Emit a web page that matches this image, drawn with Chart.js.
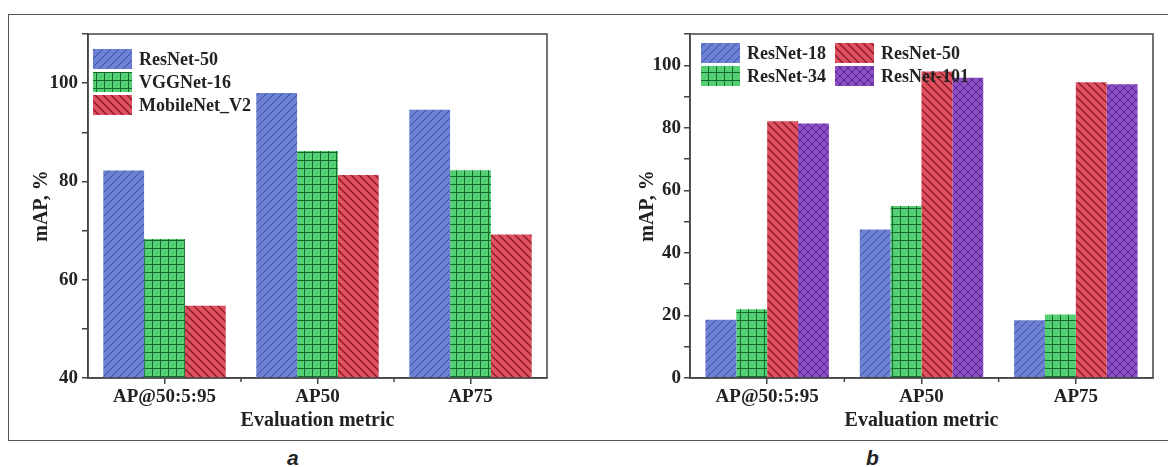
<!DOCTYPE html>
<html>
<head>
<meta charset="utf-8">
<script src="https://cdn.jsdelivr.net/npm/chart.js@4.4.1/dist/chart.umd.min.js"></script>
<style>
    html, body { margin: 0; padding: 0; background: #fff; }
    body { width: 1168px; height: 467px; position: relative; overflow: hidden; }
    #frame { position: absolute; left: 8px; top: 14px; width: 1180px; height: 425px; border: 1.5px solid #555; }
    .box { position: absolute; top: 0; height: 440px; }
    #boxA { left: 0; width: 580px; }
    #boxB { left: 580px; width: 588px; }
    .tag { position: absolute; top: 446px; font: italic bold 21px "Liberation Sans", Arial, sans-serif; color: #222; }
</style>
</head>
<body>
<div id="frame"></div>
<div class="box" id="boxA"><canvas id="chartA"></canvas></div>
<div class="box" id="boxB"><canvas id="chartB"></canvas></div>
<div class="tag" style="left:287px">a</div>
<div class="tag" style="left:866px">b</div>
<script>
// ---- data ----
const categories = ["AP@50:5:95", "AP50", "AP75"];

const labelsA = ["ResNet-50", "VGGNet-16", "MobileNet_V2"];
const resnet50A = [82.2, 98.0, 94.6];
const vggnet16A = [68.3, 86.2, 82.3];
const mobilenetA = [54.7, 81.3, 69.2];

const labelsB = ["ResNet-18", "ResNet-34", "ResNet-50", "ResNet-101"];
const resnet18B = [18.6, 47.5, 18.5];
const resnet34B = [22.0, 55.0, 20.3];
const resnet50B = [82.1, 98.0, 94.6];
const resnet101B = [81.4, 96.0, 93.9];

const FONT = "'Liberation Serif', 'Times New Roman', serif";
const INK = "#222";

// ---- hatch patterns ----
const makePattern = (bg, fg, kind) => {
    const s = 8;
    const c = document.createElement("canvas");
    c.width = s;
    c.height = s;
    const g = c.getContext("2d");
    g.fillStyle = bg;
    g.fillRect(0, 0, s, s);
    g.strokeStyle = fg;
    g.lineWidth = kind === "back" ? 1.4 : 1;
    const slash = () => {
        g.beginPath();
        g.moveTo(-1, s + 1); g.lineTo(s + 1, -1);
        g.moveTo(-1, 1); g.lineTo(1, -1);
        g.moveTo(s - 1, s + 1); g.lineTo(s + 1, s - 1);
        g.stroke();
    };
    const back = () => {
        g.beginPath();
        g.moveTo(-1, -1); g.lineTo(s + 1, s + 1);
        g.moveTo(-1, s - 1); g.lineTo(1, s + 1);
        g.moveTo(s - 1, -1); g.lineTo(s + 1, 1);
        g.stroke();
    };
    if (kind === "slash") slash();
    if (kind === "back") back();
    if (kind === "cross") { slash(); back(); }
    if (kind === "grid") {
        g.beginPath();
        g.moveTo(0, 0.5); g.lineTo(s, 0.5);
        g.moveTo(0.5, 0); g.lineTo(0.5, s);
        g.stroke();
    }
    return document.createElement("canvas").getContext("2d").createPattern(c, "repeat");
};

const blueFill = makePattern("#6d81d2", "#3e4ea6", "slash");
const greenFill = makePattern("#55cf74", "#116b2c", "grid");
const redFill = makePattern("#e0525f", "#8c1c2c", "back");
const purpleFill = makePattern("#8c4fc4", "#5a2590", "cross");

// ---- plugins ----
const frameAndLegend = {
    id: "frameAndLegend",
    afterDatasetsDraw(chart, args, opts) {
        const ctx = chart.ctx;
        const a = chart.chartArea;
        ctx.save();
        // legend
        ctx.font = "bold 18px " + FONT;
        ctx.textBaseline = "middle";
        chart.data.datasets.forEach((ds, i) => {
            const col = Math.floor(i / opts.rows);
            const row = i % opts.rows;
            const x = a.left + opts.x + col * opts.colWidth;
            const y = a.top + opts.y + row * 23;
            ctx.fillStyle = ds.backgroundColor;
            ctx.fillRect(x, y, 39, 20);
            ctx.fillStyle = INK;
            ctx.fillText(ds.label, x + 46, y + 11);
        });
        ctx.restore();
    },
    afterDraw(chart) {
        const ctx = chart.ctx;
        const a = chart.chartArea;
        const xs = chart.scales.x;
        ctx.save();
        ctx.strokeStyle = "#444";
        ctx.lineWidth = 1.5;
        ctx.strokeRect(a.left, a.top, a.right - a.left, a.bottom - a.top);
        // small ticks between categories
        const step = xs.getPixelForValue(1) - xs.getPixelForValue(0);
        ctx.beginPath();
        for (let i = 0; i < categories.length - 1; i++) {
            const px = xs.getPixelForValue(i) + step / 2;
            ctx.moveTo(px, a.bottom);
            ctx.lineTo(px, a.bottom + 4);
        }
        ctx.stroke();
        ctx.restore();
    },
};

const makeChart = (id, labels, series, fills, yMin, cfg) => {
    return new Chart(document.getElementById(id), {
        type: "bar",
        data: {
            labels: categories,
            datasets: series.map((data, i) => ({
                label: labels[i],
                data: data,
                backgroundColor: fills[i],
                borderWidth: 0,
                categoryPercentage: 0.8,
                barPercentage: 1.0,
            })),
        },
        options: {
            responsive: true,
            maintainAspectRatio: false,
            animation: false,
            layout: { padding: { top: 34, right: cfg.right, left: 0, bottom: 0 } },
            plugins: {
                legend: { display: false },
                tooltip: { enabled: false },
                frameAndLegend: cfg.legend,
            },
            scales: {
                x: {
                    grid: { drawOnChartArea: false, offset: false, tickLength: 6, color: "#444", lineWidth: 1.5 },
                    border: { color: "#444", width: 1.5 },
                    ticks: { color: INK, font: { family: FONT, size: 19, weight: "bold" }, padding: 2, maxRotation: 0 },
                    title: {
                        display: true,
                        text: "Evaluation metric",
                        color: INK,
                        font: { family: FONT, size: 20, weight: "bold" },
                        padding: { top: 0, bottom: 7 },
                    },
                    afterFit: (scale) => { scale.height = 62; },
                },
                y: {
                    min: yMin,
                    max: 110,
                    grid: { drawOnChartArea: false, tickLength: 6, color: "#444", lineWidth: 1.5 },
                    border: { color: "#444", width: 1.5 },
                    ticks: {
                        stepSize: 10,
                        color: INK,
                        padding: cfg.tickPad,
                        font: { family: FONT, size: 19, weight: "bold" },
                        callback: (v) => (v % 20 === 0 && v <= 100 ? v : ""),
                    },
                    title: {
                        display: true,
                        text: "mAP, %",
                        color: INK,
                        font: { family: FONT, size: 20, weight: "bold" },
                        padding: { top: cfg.titlePad, bottom: 0 },
                    },
                    afterFit: (scale) => { scale.width = cfg.yWidth; },
                },
            },
        },
        plugins: [frameAndLegend],
    });
};

window.chartA = makeChart(
    "chartA",
    labelsA,
    [resnet50A, vggnet16A, mobilenetA],
    [blueFill, greenFill, redFill],
    40,
    { right: 33, yWidth: 88, titlePad: 30, tickPad: 4, legend: { x: 5, y: 15, rows: 3, colWidth: 0 } }
);

window.chartB = makeChart(
    "chartB",
    labelsB,
    [resnet18B, resnet34B, resnet50B, resnet101B],
    [blueFill, greenFill, redFill, purpleFill],
    0,
    { right: 15, yWidth: 110, titlePad: 56, tickPad: 3, legend: { x: 11, y: 9, rows: 2, colWidth: 134 } }
);
</script>
</body>
</html>
